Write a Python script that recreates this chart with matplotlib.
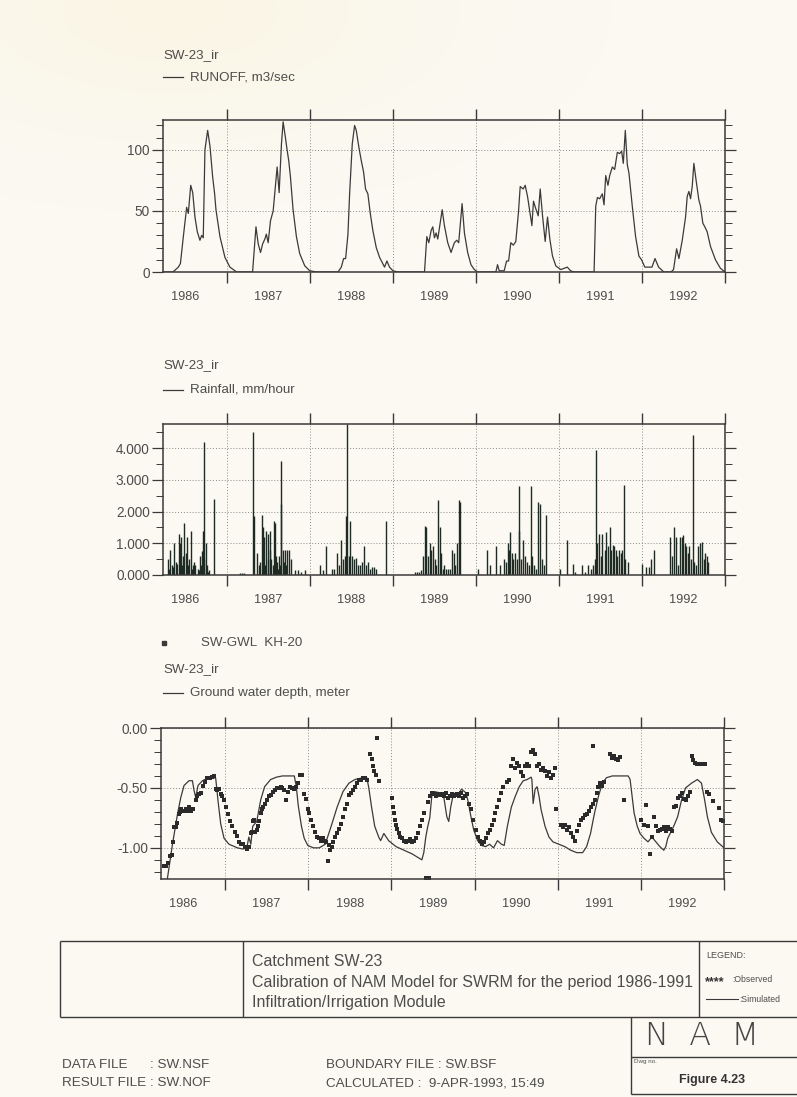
import matplotlib
matplotlib.use('Agg')
import matplotlib.pyplot as plt
import numpy as np
from matplotlib.ticker import FixedLocator, FixedFormatter, MultipleLocator, NullFormatter

plt.rcParams['font.family'] = ['Liberation Sans', 'DejaVu Sans']
plt.rcParams['axes.unicode_minus'] = False

INK = '#3a3a3a'
TXT = '#4d4d4d'
PAPER = '#fbf9f1'

X0, X1 = 1986.23, 1993.0
year_edges = [1987, 1988, 1989, 1990, 1991, 1992, 1993]
year_mids = [1986.5, 1987.5, 1988.5, 1989.5, 1990.5, 1991.5, 1992.5]
year_labels = ['1986', '1987', '1988', '1989', '1990', '1991', '1992']

# ---- runoff, m3/sec
runoff_t = [1986.23, 1986.35, 1986.415, 1986.44, 1986.475, 1986.515, 1986.535, 1986.564,
            1986.588, 1986.615, 1986.643, 1986.675, 1986.696, 1986.715, 1986.735, 1986.768,
            1986.796, 1986.828, 1986.852, 1986.868, 1986.916, 1986.976, 1987.036, 1987.117,
            1987.309, 1987.35, 1987.377, 1987.405, 1987.43, 1987.457, 1987.475, 1987.497,
            1987.525, 1987.557, 1987.605, 1987.629, 1987.657, 1987.677, 1987.705, 1987.725,
            1987.745, 1987.765, 1987.797, 1987.837, 1987.877, 1987.938, 1987.998, 1988.078,
            1988.338, 1988.378, 1988.406, 1988.43, 1988.458, 1988.478, 1988.51, 1988.538,
            1988.558, 1988.59, 1988.619, 1988.646, 1988.67, 1988.698, 1988.727, 1988.758,
            1988.799, 1988.839, 1988.899, 1988.927, 1988.959, 1988.999, 1989.059,
            1989.38, 1989.408, 1989.432, 1989.46, 1989.48, 1989.5, 1989.52, 1989.54,
            1989.569, 1989.593, 1989.62, 1989.66, 1989.7, 1989.74, 1989.768, 1989.792,
            1989.81, 1989.833, 1989.861, 1989.9, 1989.94, 1989.98, 1990.02,
            1990.24, 1990.26, 1990.28, 1990.34, 1990.369, 1990.393, 1990.42, 1990.45,
            1990.48, 1990.512, 1990.533, 1990.569, 1990.593, 1990.621, 1990.65, 1990.674,
            1990.693, 1990.72, 1990.75, 1990.774, 1990.802, 1990.834, 1990.862, 1990.89,
            1990.922, 1990.962, 1991.022, 1991.1, 1991.14, 1991.18,
            1991.423, 1991.443, 1991.463, 1991.49, 1991.522, 1991.543, 1991.563, 1991.59,
            1991.611, 1991.643, 1991.671, 1991.703, 1991.731, 1991.755, 1991.775, 1991.799,
            1991.823, 1991.843, 1991.883, 1991.923, 1991.963, 1991.995, 1992.034, 1992.12,
            1992.157, 1992.2, 1992.263, 1992.35, 1992.38, 1992.417, 1992.445, 1992.485,
            1992.525, 1992.545, 1992.565, 1992.585, 1992.605, 1992.625, 1992.652, 1992.685,
            1992.705, 1992.733, 1992.757, 1992.785, 1992.825, 1992.885, 1992.945, 1993.0]
runoff_q = [0, 0, 4, 7, 29, 53, 48, 71,
            65, 45, 33, 26, 30, 28, 100, 116,
            103, 78, 64, 51, 29, 12, 4, 0,
            0, 37, 23, 16, 23, 27, 31, 24,
            42, 50, 86, 65, 105, 123, 110, 100,
            91, 78, 51, 29, 15, 5, 1, 0,
            0, 4, 11, 11, 31, 64, 105, 120,
            116, 102, 91, 82, 68, 64, 48, 34,
            20, 12, 4, 9, 4, 1, 0,
            0, 29, 24, 34, 37, 28, 32, 27,
            40, 51, 38, 24, 16, 24, 26, 24,
            38, 56, 32, 16, 6, 2, 0,
            0, 6, 1, 1, 9, 9, 24, 22,
            25, 49, 70, 68, 71, 62, 49, 38,
            58, 52, 46, 68, 46, 25, 45, 27,
            13, 5, 2, 4, 1, 0,
            0, 54, 61, 60, 64, 55, 79, 71,
            79, 86, 84, 98, 97, 99, 89, 116,
            88, 81, 54, 29, 13, 10, 4, 4,
            11, 4, 0, 0, 2, 19, 11, 26,
            45, 62, 66, 60, 70, 89, 75, 59,
            54, 40, 37, 33, 21, 10, 3, 0]

# ---- rainfall, mm/hour
rain_t = [1986.286, 1986.30, 1986.314, 1986.333, 1986.35, 1986.367, 1986.39, 1986.40, 1986.419,
          1986.438, 1986.452, 1986.46, 1986.471, 1986.486, 1986.505, 1986.524, 1986.53, 1986.543,
          1986.567, 1986.58, 1986.59, 1986.60, 1986.619, 1986.648, 1986.66, 1986.676, 1986.69,
          1986.70, 1986.714, 1986.72, 1986.729, 1986.743, 1986.762, 1986.77, 1986.781, 1986.848,
          1987.152, 1987.181, 1987.21, 1987.319, 1987.329, 1987.367, 1987.39, 1987.40, 1987.419,
          1987.43, 1987.438, 1987.452, 1987.46, 1987.476, 1987.495, 1987.50, 1987.514, 1987.52,
          1987.533, 1987.55, 1987.562, 1987.581, 1987.59, 1987.605, 1987.61, 1987.629, 1987.64,
          1987.648, 1987.657, 1987.676, 1987.69, 1987.70, 1987.71, 1987.724, 1987.748, 1987.771,
          1987.819, 1987.857, 1987.89, 1987.938,
          1988.119, 1988.152, 1988.19, 1988.262, 1988.286, 1988.324, 1988.348, 1988.371, 1988.395,
          1988.419, 1988.438, 1988.452, 1988.467, 1988.486, 1988.51, 1988.533, 1988.557, 1988.581,
          1988.605, 1988.629, 1988.652, 1988.676, 1988.70, 1988.724, 1988.748, 1988.771, 1988.795,
          1988.914,
          1989.262, 1989.286, 1989.31, 1989.333, 1989.367, 1989.381, 1989.40, 1989.419, 1989.443,
          1989.462, 1989.486, 1989.51, 1989.524, 1989.548, 1989.567, 1989.581, 1989.60, 1989.619,
          1989.643, 1989.667, 1989.69, 1989.714, 1989.733, 1989.752, 1989.771, 1989.795, 1989.81,
          1990.024, 1990.133, 1990.167, 1990.238, 1990.286, 1990.333, 1990.357, 1990.381, 1990.395,
          1990.414, 1990.429, 1990.452, 1990.476, 1990.495, 1990.514, 1990.524, 1990.548, 1990.571,
          1990.595, 1990.619, 1990.643, 1990.667, 1990.681, 1990.705, 1990.724, 1990.752, 1990.771,
          1990.79, 1990.819, 1990.848,
          1991.01, 1991.095, 1991.167, 1991.19, 1991.276, 1991.31, 1991.348, 1991.381, 1991.405,
          1991.429, 1991.443, 1991.462, 1991.486, 1991.505, 1991.524, 1991.552, 1991.571, 1991.59,
          1991.61, 1991.629, 1991.648, 1991.667, 1991.686, 1991.705, 1991.724, 1991.743, 1991.762,
          1991.786, 1991.80, 1991.829,
          1992.0, 1992.048, 1992.086, 1992.11, 1992.143, 1992.333, 1992.362, 1992.381, 1992.405,
          1992.429, 1992.452, 1992.476, 1992.495, 1992.514, 1992.533, 1992.552, 1992.571, 1992.59,
          1992.61, 1992.629, 1992.648, 1992.676, 1992.695, 1992.724, 1992.743, 1992.762, 1992.781,
          1992.80]
rain_v = [0.5, 0.2, 0.8, 0.3, 0.25, 1.0, 0.4, 0.35, 1.3,
          1.0, 1.2, 0.3, 0.6, 1.65, 0.7, 1.2, 0.3, 0.5,
          1.4, 0.2, 0.3, 0.4, 0.3, 0.2, 0.15, 0.6, 0.3,
          0.75, 1.4, 0.5, 4.2, 1.0, 0.3, 0.1, 0.15, 2.4,
          0.05, 0.05, 0.05, 4.5, 1.85, 0.7, 0.3, 0.4, 1.9,
          0.6, 1.5, 1.2, 0.3, 1.4, 1.3, 0.5, 1.4, 0.8,
          0.5, 0.3, 1.7, 1.65, 0.6, 0.4, 0.2, 0.6, 0.3,
          2.25, 3.6, 0.8, 0.4, 0.8, 0.3, 0.8, 0.8, 0.5,
          0.15, 0.15, 0.1, 0.15,
          0.3, 0.15, 0.9, 0.2, 0.2, 0.7, 0.3, 1.1, 0.5,
          0.6, 1.85, 4.75, 0.6, 1.7, 0.6, 0.5, 0.55, 0.3,
          0.3, 0.4, 0.9, 0.3, 0.4, 0.2, 0.25, 0.25, 0.2,
          1.7,
          0.1, 0.1, 0.1, 0.15, 0.6, 1.55, 1.5, 0.6, 1.0,
          0.8, 0.9, 0.5, 0.3, 2.35, 1.5, 0.7, 0.2, 0.3,
          0.2, 0.2, 0.2, 0.8, 0.7, 0.3, 1.0, 2.35, 2.3,
          0.2, 0.8, 0.3, 0.9, 0.3, 0.5, 0.4, 1.0, 0.8,
          1.35, 0.7, 0.5, 0.7, 0.5, 2.8, 1.4, 0.5, 1.1,
          0.6, 0.4, 0.3, 2.8, 0.6, 0.3, 0.2, 2.3, 2.25,
          0.5, 0.3, 1.9,
          0.2, 1.1, 0.35, 0.1, 0.3, 0.1, 0.3, 0.2, 0.3,
          0.5, 3.95, 1.0, 1.3, 0.6, 1.3, 0.8, 1.35, 0.9,
          1.5, 0.8, 0.95, 0.9, 0.8, 0.6, 0.8, 0.7, 0.8,
          2.85, 0.5, 0.4,
          0.35, 0.25, 0.25, 0.5, 0.8, 1.2, 0.6, 1.5, 1.2,
          0.3, 1.2, 1.2, 1.25, 1.0, 0.9, 0.7, 0.9, 0.5,
          4.4, 0.4, 0.3, 0.9, 1.0, 1.05, 0.5, 0.7, 0.6,
          0.4]

# ---- ground water depth, simulated (m)
sim_t = [1986.23, 1986.305, 1986.368, 1986.428, 1986.468, 1986.507, 1986.567, 1986.608,
         1986.627, 1986.648, 1986.675, 1986.728, 1986.788, 1986.848, 1986.888, 1986.916,
         1986.948, 1986.988, 1987.048, 1987.149, 1987.214, 1987.262, 1987.286, 1987.31,
         1987.333, 1987.381, 1987.429, 1987.476, 1987.548, 1987.619, 1987.69, 1987.833,
         1987.857, 1987.881, 1987.919, 1987.952, 1987.995, 1988.062, 1988.133, 1988.205,
         1988.276, 1988.348, 1988.419, 1988.49, 1988.562, 1988.657, 1988.705, 1988.729,
         1988.762, 1988.8, 1988.848, 1988.871, 1988.91, 1988.967, 1989.057, 1989.152,
         1989.248, 1989.319, 1989.367, 1989.39, 1989.414, 1989.438, 1989.462, 1989.486,
         1989.51, 1989.581, 1989.629, 1989.667, 1989.69, 1989.714, 1989.748, 1989.795,
         1989.843, 1989.895, 1989.919, 1989.957, 1989.99, 1990.038, 1990.086, 1990.133,
         1990.181, 1990.229, 1990.276, 1990.324, 1990.357, 1990.395, 1990.443, 1990.49,
         1990.538, 1990.586, 1990.633, 1990.681, 1990.69, 1990.705, 1990.729, 1990.752,
         1990.776, 1990.8, 1990.848, 1990.895, 1990.943, 1991.014, 1991.086, 1991.157,
         1991.229, 1991.3, 1991.348, 1991.395, 1991.443, 1991.49, 1991.538, 1991.586,
         1991.657, 1991.848, 1991.871, 1991.895, 1991.919, 1991.957, 1991.99, 1992.038,
         1992.086, 1992.133, 1992.181, 1992.229, 1992.276, 1992.3, 1992.324, 1992.395,
         1992.443, 1992.49, 1992.538, 1992.61, 1992.68, 1992.729, 1992.767, 1992.8,
         1992.848, 1992.919, 1993.0]
sim_d = [-1.265, -1.265, -0.97, -0.72, -0.58, -0.48, -0.44, -0.44,
         -0.52, -0.58, -0.48, -0.44, -0.42, -0.41, -0.42, -0.61,
         -0.80, -0.92, -0.97, -1.0, -1.01, -1.0, -0.91, -0.97,
         -0.82, -0.78, -0.60, -0.49, -0.43, -0.41, -0.40, -0.40,
         -0.49, -0.65, -0.82, -0.92, -0.98, -1.0, -1.0, -0.97,
         -0.82, -0.66, -0.53, -0.46, -0.43, -0.415, -0.415, -0.50,
         -0.66, -0.82, -0.91, -0.94, -0.88, -0.94, -0.99, -1.02,
         -1.05, -1.08, -1.10, -1.04, -0.91, -0.82, -0.75, -0.57,
         -0.53, -0.54, -0.57, -0.74, -0.78, -0.66, -0.54, -0.57,
         -0.51, -0.54, -0.60, -0.74, -0.85, -0.94, -0.98, -0.99,
         -0.97, -1.0, -0.94, -0.97, -0.98, -0.82, -0.66, -0.57,
         -0.49, -0.44, -0.43, -0.41, -0.43, -0.63, -0.51, -0.49,
         -0.57, -0.68, -0.82, -0.91, -0.95, -0.97, -0.99, -1.02,
         -1.04, -1.04, -0.99, -0.88, -0.71, -0.57, -0.46, -0.415,
         -0.40, -0.40, -0.43, -0.57, -0.71, -0.82, -0.88, -0.92,
         -0.95, -0.91, -0.95, -0.99, -1.02, -0.99, -0.92, -0.82,
         -0.74, -0.60, -0.50, -0.46, -0.43, -0.46, -0.60, -0.74,
         -0.87, -0.95, -1.0]

# ---- ground water depth, observed SW-GWL KH-20 (m)
obs_t = [1986.267, 1986.287, 1986.315, 1986.339, 1986.359, 1986.372, 1986.387, 1986.407,
         1986.428, 1986.447, 1986.459, 1986.476, 1986.50, 1986.528, 1986.548, 1986.572,
         1986.596, 1986.62, 1986.648, 1986.668, 1986.687, 1986.708, 1986.74, 1986.76,
         1986.788, 1986.816, 1986.84, 1986.868, 1986.888, 1986.909, 1986.928, 1986.948,
         1986.969, 1986.988, 1987.008, 1987.036, 1987.06, 1987.089, 1987.117, 1987.149,
         1987.167, 1987.19, 1987.214, 1987.238, 1987.262, 1987.286, 1987.31, 1987.324,
         1987.333, 1987.348, 1987.357, 1987.381, 1987.395, 1987.414, 1987.429, 1987.443,
         1987.462, 1987.476, 1987.50, 1987.524, 1987.548, 1987.571, 1987.595, 1987.619,
         1987.643, 1987.667, 1987.69, 1987.714, 1987.738, 1987.762, 1987.786, 1987.81,
         1987.833, 1987.857, 1987.881, 1987.905, 1987.929, 1987.952, 1987.976, 1988.0,
         1988.014, 1988.038, 1988.062, 1988.086, 1988.11, 1988.133, 1988.157, 1988.181,
         1988.205, 1988.219, 1988.238, 1988.252, 1988.267, 1988.286, 1988.30, 1988.324,
         1988.348, 1988.371, 1988.395, 1988.419, 1988.443, 1988.467, 1988.49, 1988.514,
         1988.538, 1988.562, 1988.586, 1988.61, 1988.633, 1988.657, 1988.681, 1988.705,
         1988.743, 1988.762, 1988.776, 1988.79, 1988.814, 1988.833, 1988.852,
         1989.01, 1989.019, 1989.033, 1989.048, 1989.057, 1989.071, 1989.086, 1989.105,
         1989.129, 1989.152, 1989.176, 1989.20, 1989.224, 1989.248, 1989.271, 1989.295,
         1989.319, 1989.343, 1989.367, 1989.39, 1989.419, 1989.438, 1989.448, 1989.462,
         1989.486, 1989.51, 1989.533, 1989.557, 1989.581, 1989.605, 1989.629, 1989.652,
         1989.676, 1989.70, 1989.724, 1989.748, 1989.771, 1989.795, 1989.819, 1989.843,
         1989.867, 1989.89, 1989.914, 1989.938, 1989.962, 1989.986,
         1990.014, 1990.038, 1990.062, 1990.086, 1990.11, 1990.133, 1990.157, 1990.181,
         1990.205, 1990.229, 1990.252, 1990.276, 1990.30, 1990.324, 1990.348, 1990.386,
         1990.419, 1990.443, 1990.467, 1990.49, 1990.514, 1990.538, 1990.562, 1990.586,
         1990.61, 1990.633, 1990.657, 1990.681, 1990.705, 1990.729, 1990.752, 1990.776,
         1990.80, 1990.824, 1990.848, 1990.871, 1990.895, 1990.919, 1990.943, 1990.967,
         1990.976,
         1991.038, 1991.062, 1991.086, 1991.11, 1991.133, 1991.157, 1991.181, 1991.205,
         1991.229, 1991.252, 1991.276, 1991.30, 1991.324, 1991.348, 1991.371, 1991.395,
         1991.419, 1991.429, 1991.443, 1991.467, 1991.49, 1991.514, 1991.538, 1991.562,
         1991.633, 1991.657, 1991.681, 1991.705, 1991.729, 1991.752, 1991.80,
         1992.005, 1992.038, 1992.062, 1992.086, 1992.11, 1992.133, 1992.157, 1992.181,
         1992.205, 1992.229, 1992.252, 1992.276, 1992.30, 1992.324, 1992.348, 1992.371,
         1992.395, 1992.419, 1992.443, 1992.467, 1992.49, 1992.514, 1992.538, 1992.562,
         1992.586, 1992.61, 1992.633, 1992.657, 1992.681, 1992.705, 1992.729, 1992.752,
         1992.776, 1992.80, 1992.824, 1992.871, 1992.943, 1992.967, 1992.99]
obs_d = [-1.155, -1.15, -1.13, -1.07, -1.06, -0.95, -0.83, -0.83,
         -0.79, -0.72, -0.70, -0.68, -0.69, -0.68, -0.69, -0.66,
         -0.69, -0.68, -0.60, -0.57, -0.55, -0.54, -0.48, -0.45,
         -0.42, -0.42, -0.41, -0.40, -0.51, -0.52, -0.51, -0.55,
         -0.57, -0.60, -0.66, -0.72, -0.78, -0.82, -0.87, -0.90,
         -0.95, -0.97, -0.97, -0.99, -1.01, -0.99, -0.88, -0.87,
         -0.78, -0.77, -0.87, -0.85, -0.82, -0.78, -0.71, -0.68,
         -0.66, -0.63, -0.60, -0.57, -0.56, -0.53, -0.52, -0.50,
         -0.50, -0.49, -0.50, -0.52, -0.60, -0.53, -0.49, -0.50,
         -0.51, -0.49, -0.46, -0.39, -0.39, -0.55, -0.59, -0.68,
         -0.71, -0.77, -0.82, -0.87, -0.91, -0.92, -0.94, -0.92,
         -0.94, -0.95, -1.11, -0.98, -1.02, -0.99, -0.95, -0.91,
         -0.88, -0.84, -0.80, -0.74, -0.68, -0.63, -0.56, -0.54,
         -0.52, -0.49, -0.46, -0.43, -0.43, -0.42, -0.42, -0.43,
         -0.22, -0.26, -0.32, -0.36, -0.39, -0.085, -0.44,
         -0.58, -0.66, -0.71, -0.77, -0.81, -0.84, -0.88, -0.91,
         -0.92, -0.94, -0.95, -0.94, -0.93, -0.95, -0.94, -0.92,
         -0.88, -0.82, -0.77, -0.71, -1.25, -0.62, -1.25, -0.57,
         -0.54, -0.55, -0.57, -0.55, -0.56, -0.55, -0.57, -0.54,
         -0.58, -0.57, -0.55, -0.57, -0.56, -0.55, -0.57, -0.54,
         -0.58, -0.57, -0.55, -0.63, -0.68, -0.77,
         -0.85, -0.91, -0.94, -0.97, -0.95, -0.92, -0.88, -0.85,
         -0.81, -0.77, -0.71, -0.66, -0.60, -0.54, -0.49, -0.45,
         -0.43, -0.32, -0.26, -0.33, -0.29, -0.32, -0.37, -0.40,
         -0.32, -0.30, -0.32, -0.20, -0.18, -0.22, -0.32, -0.30,
         -0.35, -0.33, -0.36, -0.40, -0.37, -0.42, -0.39, -0.33,
         -0.68,
         -0.81, -0.83, -0.81, -0.85, -0.83, -0.88, -0.91, -0.94,
         -0.86, -0.81, -0.77, -0.75, -0.73, -0.72, -0.69, -0.66,
         -0.63, -0.15, -0.60, -0.54, -0.49, -0.46, -0.48, -0.45,
         -0.22, -0.25, -0.23, -0.26, -0.27, -0.24, -0.60,
         -0.77, -0.81, -0.64, -0.82, -1.05, -0.91, -0.74, -0.82,
         -0.86, -0.85, -0.84, -0.83, -0.86, -0.83, -0.84, -0.86,
         -0.66, -0.65, -0.58, -0.57, -0.54, -0.59, -0.60, -0.57,
         -0.53, -0.23, -0.27, -0.29, -0.30, -0.30, -0.30, -0.30,
         -0.30, -0.53, -0.55, -0.61, -0.67, -0.77, -0.78]

W, H = 797, 1097
fig = plt.figure(figsize=(W / 100, H / 100), dpi=100, facecolor=PAPER)

# page-sized overlay in pixel units for headers and the title block
bg = fig.add_axes([0, 0, 1, 1], zorder=0)
bg.axis('off')

# faint yellowing of the sheet near the top left corner
yy, xx = np.mgrid[0:H:4, 0:W:4]
fade = np.exp(-(((xx - 170) / 220.0) ** 2 + ((yy - 10) / 100.0) ** 2))
tint = np.zeros(fade.shape + (4,))
tint[..., 0] = 0.98
tint[..., 1] = 0.91
tint[..., 2] = 0.74
tint[..., 3] = 0.22 * fade
bg.imshow(tint, extent=(0, W, H, 0), interpolation='bilinear', zorder=0)
bg.set_xlim(0, W)
bg.set_ylim(H, 0)


def px_axes(left, top, right, bottom):
    return fig.add_axes([left / W, 1 - bottom / H, (right - left) / W, (bottom - top) / H], zorder=2)


def style(ax, ylim, major, labels, minor):
    ax.set_facecolor('none')
    ax.set_xlim(X0, X1)
    ax.set_ylim(*ylim)
    ax.xaxis.set_major_locator(FixedLocator(year_edges))
    ax.xaxis.set_major_formatter(NullFormatter())
    ax.xaxis.set_minor_locator(FixedLocator(year_mids))
    ax.xaxis.set_minor_formatter(FixedFormatter(year_labels))
    ax.tick_params(axis='x', which='major', direction='out', length=8, width=1.0,
                   top=True, bottom=True, color=INK)
    ax.tick_params(axis='x', which='minor', length=0, pad=14, labelsize=9.2, labelcolor=TXT)
    ax.yaxis.set_major_locator(FixedLocator(major))
    ax.yaxis.set_major_formatter(FixedFormatter(labels))
    ax.yaxis.set_minor_locator(MultipleLocator(minor))
    ax.tick_params(axis='y', which='both', direction='out', left=True, right=True, color=INK)
    ax.tick_params(axis='y', which='major', length=8, width=0.9, pad=1.5,
                   labelsize=9.8, labelcolor=TXT)
    ax.tick_params(axis='y', which='minor', length=5, width=0.7)
    ax.grid(True, which='major', ls=(0, (1, 2)), lw=0.7, color='#8a8a8a')
    for s in ax.spines.values():
        s.set_color(INK)
        s.set_linewidth(1.1)


def header(y, text, x=163, line=False, marker=False):
    if line:
        bg.plot([x, x + 20], [y, y], color=INK, lw=0.9)
        bg.text(x + 27, y, text, fontsize=9.6, color=TXT, va='center', ha='left')
    elif marker:
        bg.plot([x + 1], [y], marker='s', ms=2.5, color=INK, ls='none')
        bg.text(x + 38, y, text, fontsize=9.6, color=TXT, va='center', ha='left')
    else:
        bg.text(x, y, text, fontsize=9.6, color=TXT, va='center', ha='left')


# runoff panel
ax1 = px_axes(163, 120, 725, 272)
ax1.plot(runoff_t, runoff_q, color=INK, lw=0.9)
style(ax1, (0, 124.5), [0, 50, 100], ['0', '50', '100'], 10)
header(55, 'SW-23_ir')
header(77, 'RUNOFF, m3/sec', line=True)

# rainfall panel
ax2 = px_axes(163, 424, 725, 575)
ax2.vlines(rain_t, 0, rain_v, color='#1e2b24', lw=1.0)
style(ax2, (0, 4.76), [0, 1, 2, 3, 4], ['0.000', '1.000', '2.000', '3.000', '4.000'], 0.5)
header(365, 'SW-23_ir')
header(390, 'Rainfall, mm/hour', line=True)

# ground water panel
ax3 = px_axes(161, 728, 724, 879)
ax3.plot(sim_t, sim_d, color=INK, lw=0.9)
ax3.plot(obs_t, obs_d, ls='none', marker='s', ms=2.6, color='#2a2a2a', mew=0)
style(ax3, (-1.26, 0), [-1.0, -0.5, 0.0], ['-1.00', '-0.50', '0.00'], 0.1)
header(643, 'SW-GWL  KH-20', marker=True)
header(669, 'SW-23_ir')
header(693, 'Ground water depth, meter', line=True)

# title block
for (xa, xb, ya, yb) in [(60, 797, 941, 941), (60, 797, 1017, 1017), (60, 60, 941, 1017),
                         (243, 243, 941, 1017), (699, 699, 941, 1017), (631, 631, 1017, 1094),
                         (631, 797, 1057, 1057), (631, 797, 1094, 1094)]:
    bg.plot([xa, xb], [ya, yb], color=INK, lw=1.0, solid_capstyle='butt')

blk = 11.5
bg.text(252, 962, 'Catchment SW-23', fontsize=blk, color=TXT, va='center')
bg.text(252, 983, 'Calibration of NAM Model for SWRM for the period 1986-1991',
        fontsize=blk, color=TXT, va='center')
bg.text(252, 1003, 'Infiltration/Irrigation Module', fontsize=blk, color=TXT, va='center')

bg.text(706, 955, 'LEGEND:', fontsize=6.5, color=TXT, va='center')
bg.text(705, 982, '****', fontsize=9, color='#333333', va='center', fontweight='bold')
bg.text(732, 980, ':Observed', fontsize=6.2, color=TXT, va='center')
bg.plot([706, 738], [999, 999], color=INK, lw=0.8)
bg.text(739, 999, ':Simulated', fontsize=6.2, color=TXT, va='center')

fb = 9.7
bg.text(62, 1065, 'DATA FILE', fontsize=fb, color=TXT, va='center')
bg.text(150, 1065, ': SW.NSF', fontsize=fb, color=TXT, va='center')
bg.text(62, 1083, 'RESULT FILE', fontsize=fb, color=TXT, va='center')
bg.text(150, 1083, ': SW.NOF', fontsize=fb, color=TXT, va='center')
bg.text(326, 1065, 'BOUNDARY FILE : SW.BSF', fontsize=fb, color=TXT, va='center')
bg.text(326, 1083, 'CALCULATED :  9-APR-1993, 15:49', fontsize=fb, color=TXT, va='center')

bg.text(702, 1036, 'N  A  M', fontsize=23, color='#444444', va='center', ha='center',
        family=['DejaVu Sans'], fontweight='light')
bg.text(634, 1061, 'Dwg no.', fontsize=4.5, color=TXT, va='center')
bg.text(712, 1080, 'Figure 4.23', fontsize=9, color='#333333', va='center', ha='center',
        fontweight='bold')

fig.savefig('out.png', dpi=100, facecolor=PAPER)
